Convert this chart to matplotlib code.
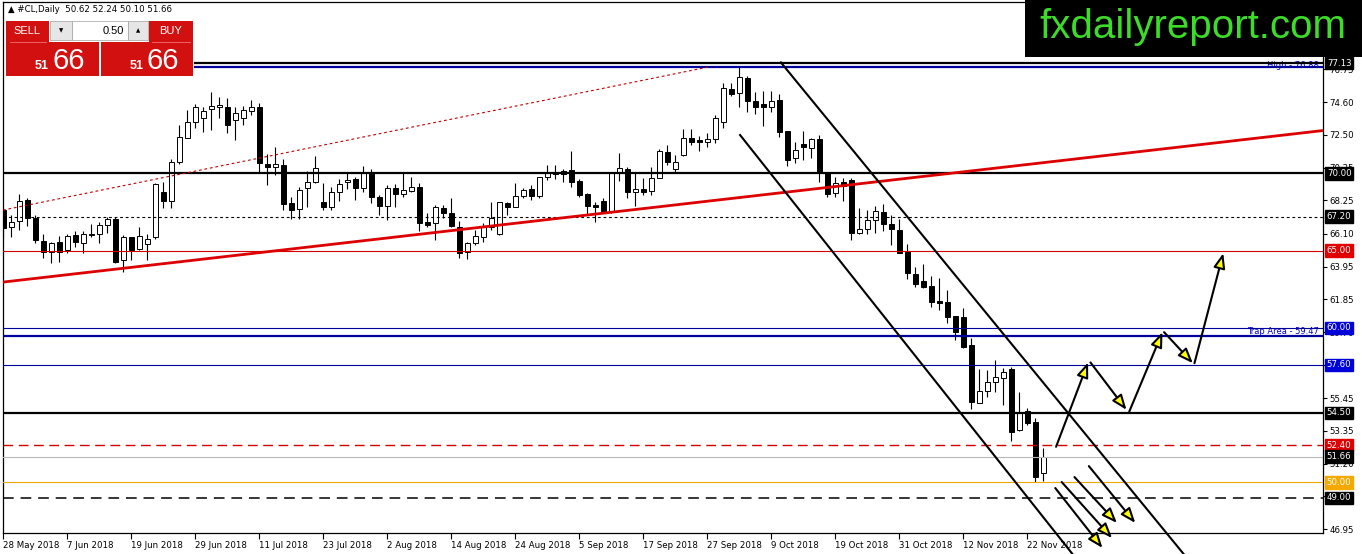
import numpy as np
import matplotlib
matplotlib.use("Agg")
import matplotlib.pyplot as plt
from matplotlib.patches import Rectangle

# daily candles, 28 May 2018 .. 26 Nov 2018 (one per bar)
opens = [67.63, 66.50, 66.91, 68.27, 67.09, 65.60, 64.89, 65.53, 65.04, 66.01,
         65.51, 66.01, 66.05, 66.63, 67.04, 64.39, 65.86, 65.10, 65.40, 65.90,
         68.79, 68.21, 70.71, 72.27, 73.34, 73.56, 74.14, 74.29, 74.29, 73.45,
         73.58, 74.03, 74.29, 70.60, 70.39, 70.54, 68.06, 67.69, 69.03, 69.42,
         68.14, 67.80, 68.77, 69.42, 69.61, 69.03, 70.00, 68.45, 67.89, 69.03,
         68.64, 68.88, 69.09, 66.85, 66.76, 67.73, 67.41, 66.55, 64.93, 65.47,
         65.86, 66.55, 66.07, 68.06, 67.84, 68.55, 68.96, 68.55, 69.74, 70.06,
         70.15, 70.22, 69.50, 68.66, 67.95, 68.21, 67.52, 70.00, 70.28, 68.77,
         68.96, 68.86, 69.72, 71.40, 70.26, 71.19, 72.27, 72.16, 72.05, 72.20,
         73.34, 75.46, 75.18, 76.19, 74.70, 74.47, 74.27, 74.75, 72.74, 71.01,
         71.88, 71.66, 72.22, 70.00, 68.71, 69.42, 69.57, 66.12, 66.38, 66.98,
         67.52, 66.72, 66.33, 64.89, 63.48, 63.03, 62.71, 61.74, 61.65, 60.77,
         60.68, 58.89, 55.16, 55.93, 56.52, 56.73, 57.31, 53.39, 54.64, 53.93,
         50.62]
highs = [67.75, 67.30, 68.66, 68.38, 67.30, 66.07, 65.58, 65.94, 66.05, 66.29,
         66.29, 66.72, 66.87, 67.20, 67.20, 66.01, 65.90, 66.55, 66.07, 69.35,
         69.42, 70.93, 73.13, 74.10, 74.49, 74.31, 75.29, 74.94, 74.87, 74.29,
         74.36, 74.74, 74.55, 71.25, 71.68, 70.91, 68.45, 69.14, 70.17, 71.12,
         69.35, 69.09, 69.61, 70.00, 69.78, 70.47, 70.26, 68.58, 69.24, 69.31,
         70.04, 69.78, 69.40, 67.45, 67.95, 67.95, 68.38, 66.94, 65.58, 66.33,
         66.76, 68.17, 68.17, 68.17, 69.40, 69.03, 69.24, 69.78, 70.54, 70.54,
         70.26, 71.47, 69.61, 68.71, 68.17, 68.38, 70.04, 71.29, 70.39, 70.00,
         69.72, 70.43, 71.57, 71.83, 71.19, 72.87, 72.87, 72.44, 72.59, 73.78,
         75.83, 75.83, 76.88, 76.32, 75.24, 75.33, 75.33, 75.11, 72.74, 72.01,
         72.74, 72.31, 72.48, 70.06, 69.78, 69.68, 69.68, 67.73, 67.63, 67.89,
         68.02, 67.30, 67.02, 65.43, 63.92, 64.13, 63.35, 63.20, 62.45, 60.77,
         61.26, 59.32, 57.31, 57.27, 57.92, 57.38, 57.44, 55.87, 54.79, 54.14,
         52.24]
lows = [65.79, 65.90, 66.33, 66.59, 65.51, 64.54, 64.22, 64.28, 64.82, 65.21,
        64.87, 65.86, 65.51, 66.16, 64.22, 63.64, 64.39, 65.04, 64.39, 65.73,
        67.78, 67.73, 70.58, 72.27, 72.91, 72.70, 72.80, 73.58, 72.61, 72.16,
        73.13, 73.77, 70.04, 69.24, 69.89, 67.63, 67.02, 67.02, 67.80, 69.35,
        67.63, 67.63, 68.23, 68.96, 68.27, 68.81, 68.06, 67.30, 66.98, 67.84,
        68.49, 68.81, 66.29, 66.55, 65.69, 67.09, 66.50, 64.50, 64.43, 65.36,
        65.58, 66.33, 66.01, 67.30, 67.80, 68.38, 68.27, 68.38, 69.57, 69.61,
        69.46, 69.14, 68.49, 67.37, 66.87, 67.41, 67.45, 69.53, 68.38, 67.90,
        68.60, 68.60, 69.68, 70.54, 70.06, 71.14, 71.83, 71.45, 71.73, 71.94,
        72.96, 75.03, 74.31, 73.95, 73.82, 73.09, 73.99, 72.37, 70.50, 70.65,
        70.86, 71.01, 69.46, 68.49, 68.49, 68.21, 65.69, 66.07, 66.07, 66.16,
        66.29, 65.36, 64.82, 63.14, 62.62, 62.56, 61.33, 61.15, 60.33, 59.21,
        58.67, 54.72, 55.11, 55.54, 55.87, 55.01, 52.70, 53.34, 53.71, 50.04,
        50.10]
closes = [66.48, 66.87, 68.23, 67.09, 65.69, 64.89, 65.51, 64.93, 65.92, 65.53,
          66.05, 66.07, 66.63, 67.02, 64.28, 65.86, 65.04, 65.94, 65.77, 69.29,
          68.21, 70.71, 72.33, 73.30, 74.27, 74.06, 74.36, 74.42, 73.13, 73.90,
          74.10, 74.29, 70.65, 70.39, 70.60, 68.02, 67.63, 68.92, 69.46, 70.32,
          67.80, 68.77, 69.31, 69.57, 69.03, 70.00, 68.45, 67.89, 69.03, 68.64,
          68.92, 69.09, 66.76, 66.66, 67.80, 67.41, 66.59, 64.87, 65.47, 65.94,
          66.55, 67.09, 68.12, 67.84, 68.53, 68.92, 68.53, 69.74, 70.00, 69.96,
          69.96, 69.42, 68.60, 67.89, 67.84, 67.52, 70.00, 70.32, 68.81, 68.96,
          68.77, 69.72, 71.47, 70.71, 70.71, 72.31, 72.05, 72.05, 72.20, 73.56,
          75.50, 75.11, 76.26, 74.70, 74.31, 74.27, 74.70, 72.65, 70.86, 71.51,
          71.73, 72.20, 70.00, 68.64, 69.35, 69.16, 66.12, 66.38, 66.98, 67.58,
          66.72, 66.38, 64.87, 63.53, 62.82, 62.66, 61.69, 61.59, 60.72, 59.75,
          58.78, 55.22, 55.93, 56.52, 56.84, 57.16, 53.28, 54.47, 53.82, 50.32,
          51.66]

date_ticks = [0, 8, 16, 24, 32, 40, 48, 56, 64, 72, 80, 88, 96, 104, 112, 120, 128]
date_labels = ["28 May 2018", "7 Jun 2018", "19 Jun 2018", "29 Jun 2018",
               "11 Jul 2018", "23 Jul 2018", "2 Aug 2018", "14 Aug 2018",
               "24 Aug 2018", "5 Sep 2018", "17 Sep 2018", "27 Sep 2018",
               "9 Oct 2018", "19 Oct 2018", "31 Oct 2018", "12 Nov 2018",
               "22 Nov 2018"]
price_ticks = [76.75, 74.60, 72.50, 70.35, 68.25, 66.10, 63.95, 61.85, 59.70,
               57.60, 55.45, 53.35, 51.20, 49.10, 46.95]

# horizontal levels: price, colour, width, dashes, first bar
level_prices = [77.13, 76.88, 70.00, 67.20, 65.00, 60.00, 59.47, 57.60,
                54.50, 52.40, 51.66, 50.00, 49.00]
level_colors = ["black", "#00009c", "black", "black", "#d40000", "#00009c",
                "#00009c", "#00009c", "black", "#d40000", "#b8b8b8",
                "#f0a800", "black"]
level_widths = [1.6, 1.6, 1.6, 0.8, 0.8, 0.8, 1.6, 0.8, 1.6, 1.0, 0.8, 0.8, 1.1]
level_dashes = [None, None, None, (2.5, 2.5), None, None, None, None, None,
                (7, 4), None, None, (7, 4.5)]
level_start = [24, 24, 0, 0, 0, 0, 0, 0, 0, 0, 0, 0, 0]

# price boxes on the right scale
box_prices = [77.13, 70.00, 67.20, 65.00, 60.00, 57.60, 54.50, 52.40, 51.66,
              50.00, 49.00]
box_colors = ["black", "black", "black", "#e00000", "#0000d8", "#0000d8",
              "black", "#e00000", "black", "#f5a800", "black"]

# trend lines (bar index, price)
red_trend = ([-0.04, 164.8], [62.96, 72.76])
red_dotted = ([-0.04, 88.3], [67.62, 76.90])
channel_upper = ([97.2, 147.55], [77.18, 45.36])
channel_lower = ([92.1, 133.65], [72.48, 45.36])

path_arrows = [((131.6, 52.30), (135.6, 57.76)),
               ((135.9, 57.76), (140.4, 54.69)),
               ((140.75, 54.58), (144.9, 59.72)),
               ((145.1, 59.72), (148.7, 57.71)),
               ((148.9, 57.71), (152.5, 64.83))]
down_arrows = [((131.5, 49.63), (137.4, 45.75)),
               ((132.3, 50.02), (138.6, 46.39)),
               ((133.9, 50.34), (139.2, 47.37)),
               ((135.7, 51.05), (141.5, 47.37))]

W, H = 1362, 554
fig = plt.figure(figsize=(W / 100, H / 100), dpi=100)
fig.patch.set_facecolor("white")
ax = fig.add_axes([2.7 / W, 21 / H, 1320 / W, 531 / H])
ax.set_xlim(-0.075, 164.93)
ax.set_ylim(46.72, 81.09)

x = np.arange(len(opens))
o = np.array(opens)
c = np.array(closes)
up = c >= o
ax.vlines(x, lows, highs, color="black", lw=0.8, zorder=2)
bottoms = np.minimum(o, c)
heights = np.maximum(np.abs(c - o), 0.06)
ax.bar(x, heights, bottom=bottoms, width=0.62,
       color=np.where(up, "white", "black"), edgecolor="black",
       linewidth=0.7, zorder=2.2)

for p, col, lw, ds, s in zip(level_prices, level_colors, level_widths,
                             level_dashes, level_start):
    ln, = ax.plot([s, 164.93], [p, p], color=col, lw=lw, zorder=3)
    if ds:
        ln.set_dashes(ds)

ax.plot(*red_trend, color="#dd0000", lw=2.0, zorder=3)
rd, = ax.plot(*red_dotted, color="#c00000", lw=0.8, zorder=3)
rd.set_dashes((2.5, 2.5))
ax.plot(*channel_upper, color="black", lw=1.5, zorder=4, clip_on=False)
ax.plot(*channel_lower, color="black", lw=1.5, zorder=4, clip_on=False)

for start, end in path_arrows + down_arrows:
    ax.annotate("", xy=end, xytext=start, annotation_clip=False, zorder=5,
                arrowprops=dict(arrowstyle="-|>,head_length=0.9,head_width=0.35",
                                fc="#ffff00", ec="black", lw=1.5,
                                mutation_scale=10, shrinkA=0, shrinkB=0))

ax.text(164.5, 77.0, "High - 76.88", color="#0000cc", fontsize=6,
        ha="right", va="center", zorder=2.8)
ax.text(164.5, 59.78, "Trap Area - 59.47", color="#0000cc", fontsize=6,
        ha="right", va="center", zorder=2.8)

for p, col in zip(box_prices, box_colors):
    ax.annotate(f"{p:.2f}", xy=(1.0, p), xycoords=("axes fraction", "data"),
                xytext=(3, 0), textcoords="offset points", ha="left",
                va="center", fontsize=6.2, color="white", zorder=6,
                annotation_clip=False,
                bbox=dict(boxstyle="square,pad=0.2", fc=col, ec=col))

ax.yaxis.tick_right()
ax.set_yticks(price_ticks)
ax.set_yticklabels([f"{p:.2f}" for p in price_ticks])
ax.tick_params(axis="y", length=3, width=0.8, labelsize=6.2, pad=2)
ax.set_xticks(date_ticks)
ax.set_xticklabels(date_labels)
for lbl in ax.get_xticklabels():
    lbl.set_ha("left")
ax.tick_params(axis="x", length=4, width=0.8, labelsize=6.2, pad=1.5)
for sp in ax.spines.values():
    sp.set_linewidth(0.9)

# overlay in pixel units for header, trade panel and logo
ov = fig.add_axes([0, 0, 1, 1], zorder=10)
ov.set_xlim(0, W)
ov.set_ylim(H, 0)
ov.axis("off")
ov.patch.set_alpha(0)

ov.text(8, 10, "\u25b2 #CL,Daily  50.62 52.24 50.10 51.66", fontsize=6.2,
        ha="left", va="center")

red = "#d21010"
ov.add_patch(Rectangle((6, 20.5), 43, 21, fc=red, ec="none"))
ov.add_patch(Rectangle((149, 20.5), 44, 21, fc=red, ec="none"))
ov.add_patch(Rectangle((6, 42), 92.5, 34, fc=red, ec="none"))
ov.add_patch(Rectangle((101, 42), 92, 34, fc=red, ec="none"))
ov.plot([10, 46], [41.7, 41.7], color="#f07070", lw=0.6)
ov.plot([152, 190], [41.7, 41.7], color="#f07070", lw=0.6)
ov.add_patch(Rectangle((50, 21), 22, 19, fc="#e6e6e6", ec="#a0a0a0", lw=0.5))
ov.add_patch(Rectangle((72, 21), 56, 19, fc="white", ec="#a0a0a0", lw=0.5))
ov.add_patch(Rectangle((128, 21), 20, 19, fc="#e6e6e6", ec="#a0a0a0", lw=0.5))
ov.text(61, 30.5, "\u25bc", fontsize=4, ha="center", va="center")
ov.text(138, 30.5, "\u25b2", fontsize=4, ha="center", va="center")
ov.text(124, 30.5, "0.50", fontsize=8, ha="right", va="center",
        family="Liberation Sans")
ov.text(27, 31, "SELL", fontsize=8, color="white", ha="center", va="center",
        family="Liberation Sans")
ov.text(171, 31, "BUY", fontsize=8, color="white", ha="center", va="center",
        family="Liberation Sans")
for x0 in (35, 130):
    ov.text(x0, 69, "51", fontsize=9, color="white", ha="left",
            va="baseline", family="Liberation Sans", weight="bold")
    ov.text(x0 + 17, 69, "66", fontsize=21, color="white", ha="left",
            va="baseline", family="Liberation Sans")

ov.add_patch(Rectangle((1025, 0), W - 1025, 57, fc="black", ec="none"))
ov.text(1193, 27, "fxdailyreport.com", fontsize=29, color="#3cdc28",
        ha="center", va="center", family="Liberation Sans")

fig.savefig("out.png", dpi=100)
